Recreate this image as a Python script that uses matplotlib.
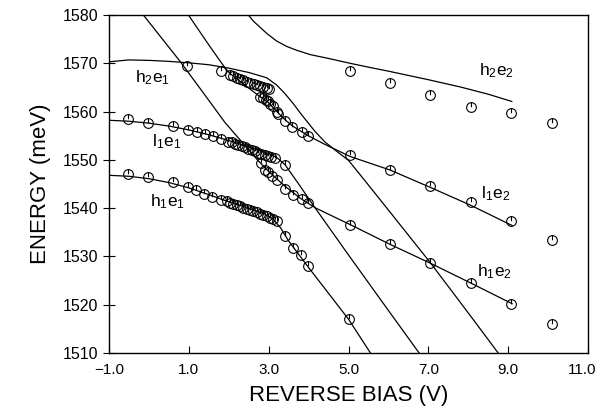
import numpy as np
import matplotlib.pyplot as plt
from matplotlib.path import Path
from matplotlib.transforms import ScaledTranslation

plt.rcParams['font.family'] = ['Liberation Sans', 'DejaVu Sans']
plt.rcParams['mathtext.fontset'] = 'custom'
plt.rcParams['mathtext.rm'] = 'Liberation Sans'
plt.rcParams['mathtext.default'] = 'rm'

# measured transition energies (meV) vs reverse bias (V)
h1e1_v = [-0.52, -0.02, 0.61, 0.99, 1.18, 1.38, 1.59, 1.80,
          1.95, 2.03, 2.11, 2.20, 2.28, 2.36, 2.45, 2.53, 2.61, 2.70, 2.78, 2.86, 2.95, 3.03, 3.11, 3.20,
          3.41, 3.60, 3.80, 3.99, 5.02]
h1e1_e = [1547.1, 1546.5, 1545.4, 1544.3, 1543.8, 1543.0, 1542.3, 1541.6,
          1541.4, 1541.1, 1540.8, 1540.6, 1540.4, 1540.1, 1539.9, 1539.6, 1539.4, 1539.1, 1538.8, 1538.6,
          1538.3, 1538.0, 1537.7, 1537.3,
          1534.3, 1531.7, 1530.3, 1528.0, 1517.0]

l1e1_v = [-0.52, -0.02, 0.61, 0.99, 1.20, 1.41, 1.60, 1.80,
          1.99, 2.07, 2.16, 2.24, 2.32, 2.41, 2.49, 2.57, 2.66, 2.74, 2.82, 2.91, 2.99, 3.07, 3.16, 3.41,
          2.81, 2.91, 2.99, 3.09, 3.20, 3.41, 3.62, 3.83, 3.99]
l1e1_e = [1558.4, 1557.7, 1557.0, 1556.2, 1555.8, 1555.3, 1554.9, 1554.3,
          1553.8, 1553.6, 1553.3, 1553.1, 1552.8, 1552.6, 1552.3, 1552.0, 1551.8, 1551.5, 1551.3, 1551.0,
          1550.8, 1550.6, 1550.4, 1549.0,
          1549.4, 1548.0, 1547.4, 1546.6, 1545.9, 1544.0, 1542.8, 1541.8, 1541.1]

h2e1_v = [0.95, 1.80,
          2.03, 2.11, 2.20, 2.28, 2.36, 2.45, 2.53, 2.62, 2.70, 2.78, 2.86, 2.95, 3.02,
          2.78, 2.87, 2.93, 2.99, 3.04, 3.12, 3.20, 3.24, 3.41, 3.58, 3.83, 3.99]
h2e1_e = [1569.5, 1568.3,
          1567.6, 1567.3, 1567.0, 1566.7, 1566.5, 1566.2, 1566.0, 1565.7, 1565.5, 1565.3, 1565.0, 1564.8, 1564.6,
          1563.1, 1562.8, 1562.4, 1562.1, 1561.5, 1561.1, 1560.0, 1559.5, 1558.0, 1556.9, 1555.8, 1555.0]

e2_v = [5.04, 6.04, 7.05, 8.08, 9.07, 10.11]
h2e2_e = [1568.4, 1566.0, 1563.5, 1561.0, 1559.7, 1557.7]
l1e2_e = [1551.1, 1548.0, 1544.5, 1541.2, 1537.3, 1533.5]
h1e2_e = [1536.6, 1532.5, 1528.7, 1524.4, 1520.2, 1516.0]

# calculated curves
calc_h2e2_v = [2.49, 2.62, 2.78, 2.95, 3.2, 3.45, 3.7, 4.04, 4.5, 5.04, 5.5, 6.04, 7.0, 7.8, 8.5, 9.09]
calc_h2e2_e = [1580, 1578.7, 1577.5, 1576.2, 1574.6, 1573.5, 1572.7, 1571.8, 1571.0, 1570.0, 1569.2,
               1568.3, 1566.6, 1565.1, 1563.6, 1562.1]
calc_h2e1_v = [-1.0, -0.5, 0.0, 0.5, 1.0, 1.5, 2.0, 2.5, 2.95, 3.2, 3.41, 3.62, 3.83, 4.16, 4.41, 4.7,
               5.0, 5.42, 6.0, 7.05, 8.0, 8.75]
calc_h2e1_e = [1570.3, 1570.7, 1570.6, 1570.4, 1570.1, 1569.7, 1569.0, 1568.1, 1567.0, 1565.5, 1563.7,
               1561.6, 1559.3, 1555.9, 1553.7, 1551.8, 1549.9, 1545.6, 1539.6, 1528.7, 1518.3, 1510.0]
calc_l1e1_v = [-1.0, -0.5, 0.0, 0.5, 1.0, 1.5, 2.0, 2.5, 3.0, 3.2, 3.41, 3.7, 4.16, 5.0, 6.0, 6.77]
calc_l1e1_e = [1558.2, 1558.0, 1557.6, 1557.0, 1556.2, 1555.2, 1554.0, 1552.7, 1551.3, 1550.5, 1549.0,
               1545.6, 1540.1, 1530.3, 1518.8, 1510.0]
calc_h1e1_v = [-1.0, -0.5, 0.0, 0.5, 1.0, 1.5, 2.0, 2.5, 2.9, 3.1, 3.3, 3.5, 4.0, 5.0, 5.55]
calc_h1e1_e = [1546.8, 1546.6, 1546.1, 1545.3, 1544.2, 1542.8, 1541.3, 1540.0, 1538.8, 1537.8, 1535.9,
               1533.2, 1527.7, 1517.0, 1510.0]
calc_a_v = [-0.14, 0.78, 1.28, 1.9, 2.37, 2.74, 3.0, 3.4, 3.8, 4.16, 4.66, 5.04, 6.04, 7.05, 8.06, 9.1]
calc_a_e = [1580, 1570.4, 1564.8, 1557.8, 1553.3, 1549.8, 1547.6, 1544.6, 1542.0, 1540.1, 1538.1,
            1536.6, 1532.5, 1528.6, 1524.5, 1520.2]
calc_b_v = [0.99, 1.5, 1.91, 2.03, 2.4, 2.78, 3.0, 3.24, 3.41, 3.6, 3.99, 4.41, 5.04, 6.04, 7.05, 8.06, 9.1]
calc_b_e = [1580, 1573.8, 1569.0, 1567.9, 1565.5, 1563.1, 1561.8, 1559.7, 1558.3, 1557.0, 1555.0,
            1553.2, 1550.7, 1547.9, 1544.3, 1540.6, 1536.4]

labels = [r'h$_2$e$_1$', r'l$_1$e$_1$', r'h$_1$e$_1$', r'h$_2$e$_2$', r'l$_1$e$_2$', r'h$_1$e$_2$']
label_v = [-0.35, 0.07, 0.03, 8.26, 8.32, 8.23]
label_e = [1566.0, 1552.8, 1540.4, 1567.6, 1542.1, 1525.9]

x_ticks = [-1.0, 1.0, 3.0, 5.0, 7.0, 9.0, 11.0]
y_ticks = list(range(1510, 1581, 10))

# circle with a short stroke from the top, as in the original symbols
marker = Path.make_compound_path(Path.unit_circle(),
                                 Path([(0, 1), (0, 0.05)], [Path.MOVETO, Path.LINETO]))

fig = plt.figure(figsize=(6, 4.18), dpi=100)
ax = fig.add_axes([0.1817, 0.1555, 0.7983, 0.8086])

for v, e in [(calc_h2e2_v, calc_h2e2_e), (calc_h2e1_v, calc_h2e1_e), (calc_l1e1_v, calc_l1e1_e),
             (calc_h1e1_v, calc_h1e1_e), (calc_a_v, calc_a_e), (calc_b_v, calc_b_e)]:
    ax.plot(v, e, color='black', lw=0.9)

for v, e in [(h1e1_v, h1e1_e), (l1e1_v, l1e1_e), (h2e1_v, h2e1_e),
             (e2_v, h2e2_e), (e2_v, l1e2_e), (e2_v, h1e2_e)]:
    ax.plot(v, e, ls='none', marker=marker, ms=7, mfc='none', mec='black', mew=0.8)

for txt, v, e in zip(labels, label_v, label_e):
    ax.text(v, e, txt, fontsize=12.5, ha='left', va='baseline')

ax.set_xlim(-1, 11)
ax.set_ylim(1510, 1580)
ax.set_xticks(x_ticks)
ax.set_xticklabels(['\u22121.0'] + ['%.1f' % t for t in x_ticks[1:]])
ax.set_yticks(y_ticks)
ax.tick_params(axis='x', direction='in', length=5, labelsize=11, pad=7)
ax.tick_params(axis='y', direction='inout', length=8, labelsize=11.5, pad=4)
# keep the last x label inside the figure
last = ax.get_xticklabels()[-1]
last.set_transform(last.get_transform() + ScaledTranslation(-4 / 72, 0, fig.dpi_scale_trans))
for s in ax.spines.values():
    s.set_linewidth(1.0)
ax.set_xlabel('REVERSE BIAS (V)', fontsize=16, labelpad=6)
ax.set_ylabel('ENERGY (meV)', fontsize=16, labelpad=8)

fig.savefig('out.png', dpi=100)
